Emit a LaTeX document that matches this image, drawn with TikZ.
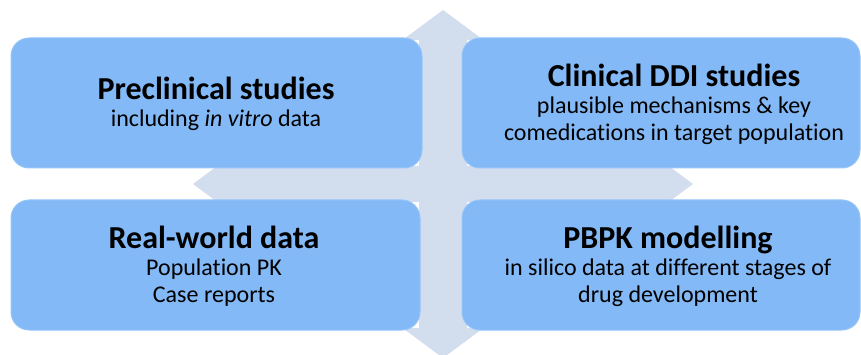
\documentclass[tikz,border=0pt]{standalone}
\usepackage{fontspec}
\setmainfont{Carlito}[Ligatures=NoCommon]
\definecolor{bandgrey}{RGB}{210,221,238}
\definecolor{boxblue}{RGB}{130,185,246}
\definecolor{boxedge}{RGB}{150,197,249}
\tikzset{
  databox/.style={fill=boxblue, draw=boxedge, line width=1pt, rounded corners=18pt, minimum height=130pt},
  boxtext/.style={align=center, font=\fontsize{24}{27}\selectfont},
}
\newcommand{\boxtitle}[1]{{\fontsize{32}{34}\selectfont\bfseries #1}}
\begin{document}
\begin{tikzpicture}[x=1pt,y=-1pt]
    \useasboundingbox (0,0) rectangle (861,355);
    \fill[bandgrey] (443,10) -- (483.5,40) -- (467,40) -- (467,166) -- (652.5,166) -- (652.5,154) -- (693,184)
      -- (652.5,214) -- (652.5,202) -- (467,202) -- (467,328) -- (483.5,328) -- (443,358) -- (402.5,328)
      -- (419,328) -- (419,202) -- (233.5,202) -- (233.5,214) -- (193,184) -- (233.5,154) -- (233.5,166)
      -- (419,166) -- (419,40) -- (402.5,40) -- cycle; %quad arrow
    \node[databox, minimum width=411pt] (pre) at (216.5,103) {}; %preclinical
    \node[databox, minimum width=398pt] (cli) at (661,103) {}; %clinical
    \node[databox, minimum width=409pt] (rwd) at (215.5,265) {}; %real world
    \node[databox, minimum width=398pt] (pbpk) at (661,265) {}; %pbpk
    \node[boxtext] (pretext) at (216,104) {\boxtitle{Preclinical studies}\\ including \textit{in vitro} data};
    \node[boxtext] (clitext) at (674,104) {\boxtitle{Clinical DDI studies}\\ plausible mechanisms \& key\\ comedications in target population};
    \node[boxtext] (rwdtext) at (214,266) {\boxtitle{Real-world data}\\ Population PK\\ Case reports};
    \node[boxtext] (pbpktext) at (668,266) {\boxtitle{PBPK modelling}\\ in silico data at different stages of\\ drug development};
\end{tikzpicture}
\end{document}
